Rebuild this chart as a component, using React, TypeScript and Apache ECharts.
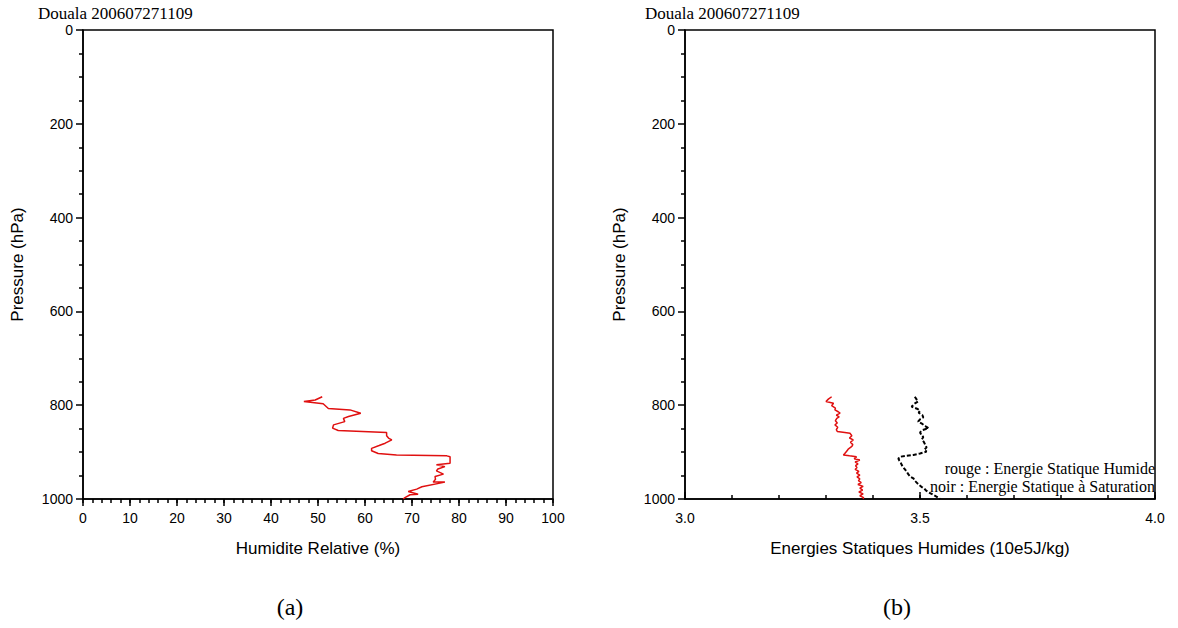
import React, { useEffect, useRef } from "react";
import * as echarts from "echarts";

const TITLE = "Douala 200607271109";

const rhPressures = [782, 789, 792, 797, 807, 810, 817, 824, 828, 835, 842, 849, 854, 858, 865, 870, 874, 881, 886, 892, 897, 903, 906, 908, 910, 917, 924, 927, 931, 936, 940, 947, 952, 958, 964, 964, 974, 979, 984, 990, 991, 997, 1000];
const rhValues = [50.9, 49.4, 47.0, 51.1, 52.2, 56.8, 59.1, 56.5, 55.4, 55.7, 53.3, 53.1, 54.3, 64.6, 64.6, 65.0, 65.7, 64.3, 63.0, 61.4, 61.4, 62.8, 66.7, 77.4, 78.1, 78.1, 78.1, 75.2, 77.0, 75.5, 75.2, 76.7, 74.9, 75.0, 74.5, 77.0, 72.1, 71.0, 69.2, 71.3, 69.6, 68.5, 68.1];

const eshPressures = [782, 787, 792, 796, 801, 806, 810, 814, 817, 821, 825, 828, 833, 838, 842, 847, 852, 856, 858, 860, 865, 870, 874, 879, 884, 888, 893, 898, 903, 906, 908, 910, 914, 917, 921, 925, 929, 933, 937, 941, 945, 949, 953, 957, 961, 965, 969, 973, 977, 981, 985, 989, 993, 997, 1000];
const eshValues = [3.312, 3.305, 3.300, 3.316, 3.312, 3.320, 3.319, 3.326, 3.330, 3.322, 3.328, 3.323, 3.320, 3.324, 3.319, 3.325, 3.322, 3.324, 3.340, 3.351, 3.355, 3.350, 3.358, 3.352, 3.357, 3.355, 3.348, 3.344, 3.340, 3.337, 3.350, 3.365, 3.360, 3.372, 3.362, 3.368, 3.363, 3.366, 3.362, 3.370, 3.365, 3.372, 3.366, 3.372, 3.369, 3.375, 3.368, 3.379, 3.372, 3.378, 3.370, 3.379, 3.372, 3.380, 3.379];

const essPressures = [782, 788, 792, 797, 803, 808, 812, 816, 821, 826, 830, 835, 840, 845, 849, 853, 858, 863, 868, 873, 878, 884, 890, 895, 899, 903, 906, 908, 910, 914, 918, 922, 927, 932, 937, 942, 947, 952, 956, 961, 965, 969, 974, 978, 982, 986, 991, 995, 1000];
const essValues = [3.489, 3.493, 3.496, 3.488, 3.482, 3.495, 3.500, 3.497, 3.505, 3.507, 3.500, 3.496, 3.505, 3.512, 3.518, 3.506, 3.500, 3.503, 3.507, 3.504, 3.508, 3.511, 3.514, 3.509, 3.514, 3.500, 3.486, 3.470, 3.457, 3.454, 3.456, 3.459, 3.461, 3.464, 3.468, 3.472, 3.475, 3.479, 3.486, 3.489, 3.493, 3.497, 3.503, 3.509, 3.513, 3.519, 3.528, 3.535, 3.543];

const legendLines = ["rouge : Energie Statique Humide", "noir : Energie Statique à Saturation"];
const captions = ["(a)", "(b)"];

const SANS = "'Liberation Sans', Arial, sans-serif";
const SERIF = "'Liberation Serif', 'DejaVu Serif', serif";

function pairs(xs: number[], ys: number[]) {
  return xs.map((x, i) => [x, ys[i]]);
}

export default function App() {
  const ref = useRef<HTMLDivElement>(null);
  useEffect(() => {
    document.body.style.margin = "0";
    const chart = echarts.init(ref.current!, null, { renderer: "svg" });
    const yAxisBase = (gi: number) => ({
      type: "value",
      gridIndex: gi,
      inverse: true,
      min: 0,
      max: 1000,
      interval: 200,
      name: "Pressure (hPa)",
      nameLocation: "middle",
      nameGap: 57,
      nameTextStyle: { fontFamily: SANS, fontSize: 17, color: "#000" },
      axisLine: { show: true, onZero: false, lineStyle: { color: "#000", width: 1.5 } },
      axisTick: { show: true, length: 7, lineStyle: { color: "#000", width: 1.5 } },
      minorTick: { show: true, splitNumber: 4, length: 4, lineStyle: { color: "#000", width: 1.5 } },
      axisLabel: { fontFamily: SANS, fontSize: 14, color: "#000", margin: 10, formatter: (v: number) => String(v) },
      splitLine: { show: false },
    });
    const xMain = (gi: number, min: number, max: number, interval: number, name: string, digits: number, inside: boolean) => ({
      type: "value",
      gridIndex: gi,
      position: "bottom",
      min,
      max,
      interval,
      name,
      nameLocation: "middle",
      nameGap: 41,
      nameTextStyle: { fontFamily: SANS, fontSize: 17, color: "#000" },
      axisLine: { show: true, onZero: false, lineStyle: { color: "#000", width: 1.5 } },
      axisTick: { show: true, inside, length: 7, lineStyle: { color: "#000", width: 1.5 } },
      minorTick: { show: false },
      axisLabel: {
        fontFamily: SANS,
        fontSize: 14,
        color: "#000",
        margin: 12,
        formatter: (v: number) => v.toFixed(digits),
      },
      splitLine: { show: false },
    });
    const xMinor = (gi: number, min: number, max: number, interval: number, inside: boolean) => ({
      type: "value",
      gridIndex: gi,
      position: "bottom",
      min,
      max,
      interval,
      axisLine: { show: false, onZero: false },
      axisTick: { show: true, inside, length: 4, lineStyle: { color: "#000", width: 1.5 } },
      minorTick: { show: false },
      axisLabel: { show: false },
      splitLine: { show: false },
    });
    const grid = (left: number) => ({
      left,
      top: 30,
      width: 470,
      height: 469,
      show: true,
      borderColor: "#000",
      borderWidth: 1.5,
      backgroundColor: "transparent",
    });
    chart.setOption({
      animation: false,
      backgroundColor: "#fff",
      grid: [grid(83), grid(685)],
      xAxis: [
        xMain(0, 0, 100, 10, "Humidite Relative (%)", 0, false),
        xMain(1, 3.0, 4.0, 0.5, "Energies Statiques Humides (10e5J/kg)", 1, true),
        xMinor(0, 0, 100, 2, false),
        xMinor(1, 3.0, 4.0, 0.1, true),
      ],
      yAxis: [yAxisBase(0), yAxisBase(1)],
      series: [
        {
          type: "line",
          xAxisIndex: 0,
          yAxisIndex: 0,
          data: pairs(rhValues, rhPressures),
          showSymbol: false,
          lineStyle: { color: "#e01010", width: 1.5 },
        },
        {
          type: "line",
          xAxisIndex: 1,
          yAxisIndex: 1,
          data: pairs(eshValues, eshPressures),
          showSymbol: false,
          lineStyle: { color: "#e01010", width: 1.5 },
        },
        {
          type: "line",
          xAxisIndex: 1,
          yAxisIndex: 1,
          data: pairs(essValues, essPressures),
          showSymbol: false,
          lineStyle: { color: "#000", width: 2, type: [4, 2] },
        },
      ],
      graphic: [
        { type: "text", left: 38, top: 5, style: { text: TITLE, font: `17px ${SERIF}`, fill: "#000" } },
        { type: "text", left: 645, top: 5, style: { text: TITLE, font: `17px ${SERIF}`, fill: "#000" } },
        {
          type: "text",
          x: 1155,
          y: 468,
          style: { text: legendLines[0], font: `16px ${SERIF}`, fill: "#000", align: "right", verticalAlign: "middle" },
        },
        {
          type: "text",
          x: 1155,
          y: 486,
          style: { text: legendLines[1], font: `16px ${SERIF}`, fill: "#000", align: "right", verticalAlign: "middle" },
        },
        {
          type: "text",
          x: 290,
          y: 607,
          style: { text: captions[0], font: `24px ${SERIF}`, fill: "#000", align: "center", verticalAlign: "middle" },
        },
        {
          type: "text",
          x: 897,
          y: 607,
          style: { text: captions[1], font: `24px ${SERIF}`, fill: "#000", align: "center", verticalAlign: "middle" },
        },
      ],
    });
    return () => chart.dispose();
  }, []);
  return <div ref={ref} style={{ width: 1178, height: 628 }} />;
}
